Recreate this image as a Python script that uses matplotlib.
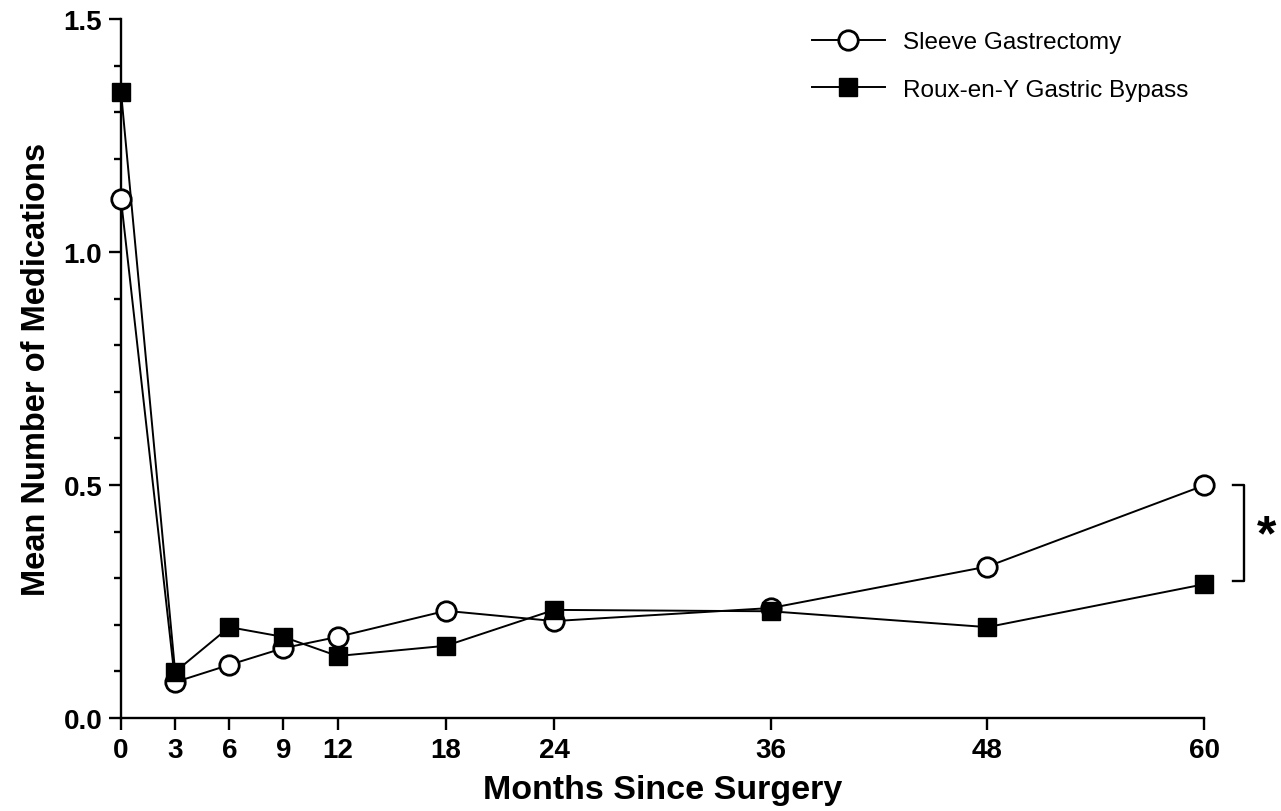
import matplotlib
matplotlib.use("Agg")
import matplotlib.pyplot as plt
from matplotlib.ticker import MultipleLocator

plt.rcParams['font.family'] = ['Liberation Sans', 'DejaVu Sans']

months = [0, 3, 6, 9, 12, 18, 24, 36, 48, 60]
sleeve = [1.113, 0.077, 0.114, 0.150, 0.174, 0.230, 0.208, 0.236, 0.325, 0.499]
rygb = [1.344, 0.099, 0.195, 0.174, 0.133, 0.155, 0.232, 0.229, 0.195, 0.287]
labels = ["Sleeve Gastrectomy", "Roux-en-Y Gastric Bypass"]

W, H = 1281, 812
fig = plt.figure(figsize=(W/100, H/100), dpi=100)
ax = fig.add_axes([121/W, 1-719/H, (1204-121)/W, (719-20)/H])

ax.plot(months, sleeve, color='black', lw=1.4, marker='o', ms=14,
        mfc='white', mec='black', mew=2.0, label=labels[0], clip_on=False, zorder=3)
ax.plot(months, rygb, color='black', lw=1.4, marker='s', ms=13,
        mfc='black', mec='black', mew=1.0, label=labels[1], clip_on=False, zorder=3)

ax.set_xlim(0, 60)
ax.set_ylim(0, 1.5)
ax.set_xticks(months)
ax.set_yticks([0.0, 0.5, 1.0, 1.5])
ax.set_yticklabels(["0.0", "0.5", "1.0", "1.5"])
ax.yaxis.set_minor_locator(MultipleLocator(0.1))

for s in ['top', 'right']:
    ax.spines[s].set_visible(False)
for s in ['left', 'bottom']:
    ax.spines[s].set_linewidth(1.7)

ax.tick_params(axis='both', which='major', length=8.5, width=1.7, labelsize=20, pad=5)
ax.tick_params(axis='y', which='minor', length=5, width=1.7)
for t in ax.get_xticklabels() + ax.get_yticklabels():
    t.set_fontweight('bold')

ax.set_xlabel("Months Since Surgery", fontsize=24.5, fontweight='heavy', labelpad=8)
ax.set_ylabel("Mean Number of Medications", fontsize=23.5, fontweight='heavy', labelpad=8)

# significance bracket
bx = 62.2
bt = 61.6
ax.plot([bt, bx, bx, bt], [0.5, 0.5, 0.294, 0.294], color='black', lw=1.7, clip_on=False)
ax.text(62.95, 0.39, "*", fontsize=36, fontweight='bold', ha='left', va='center')

leg = ax.legend(loc='upper left', bbox_to_anchor=(812/W, 1-32/H), bbox_transform=fig.transFigure,
                frameon=False, fontsize=17.5, handlelength=3.0, handletextpad=0.75,
                labelspacing=1.05, borderpad=0, borderaxespad=0)

fig.savefig("out.png", dpi=100)
